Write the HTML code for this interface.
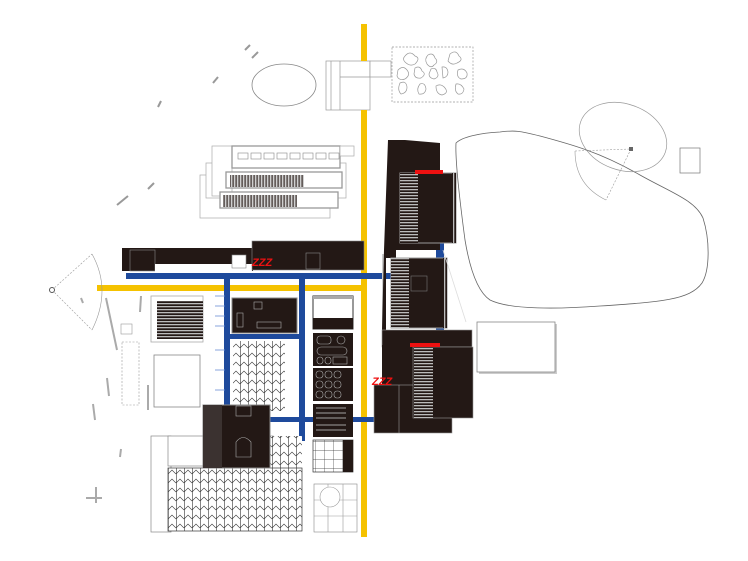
<!DOCTYPE html>
<html><head><meta charset="utf-8"><style>html,body{margin:0;padding:0;background:#fff}svg{display:block}</style></head>
<body>
<svg width="748" height="561" viewBox="0 0 748 561" xmlns="http://www.w3.org/2000/svg" font-family="Liberation Sans, sans-serif">
<defs>
<pattern id="hv" width="3" height="4" patternUnits="userSpaceOnUse"><rect width="3" height="4" fill="#231815"/><rect width="1.3" height="4" fill="#bbb"/></pattern>
<pattern id="hh" width="4" height="3" patternUnits="userSpaceOnUse"><rect width="4" height="3" fill="#231815"/><rect width="4" height="1.3" fill="#bbb"/></pattern>
<pattern id="zig" width="8" height="9" patternUnits="userSpaceOnUse"><rect width="8" height="9" fill="#fff"/><path d="M0.3 0V9M0 6 L4 2 L8 6" stroke="#333" stroke-width="0.6" fill="none"/></pattern>
<pattern id="grid" width="9" height="9" patternUnits="userSpaceOnUse"><rect width="9" height="9" fill="#fff"/><path d="M0 0H9M0 0V9" stroke="#333" stroke-width="0.7"/></pattern>
</defs>

<g stroke="#999" stroke-width="2"><line x1="245" y1="50" x2="250" y2="45"/><line x1="252" y1="58" x2="258" y2="52"/><line x1="213" y1="83" x2="218" y2="77"/><line x1="158" y1="107" x2="161" y2="101"/><line x1="117" y1="205" x2="128" y2="196"/><line x1="148" y1="189" x2="154" y2="183"/></g>

<ellipse cx="284" cy="85" rx="32" ry="21" fill="none" stroke="#888" stroke-width="0.8"/>

<g fill="#fff" stroke="#999" stroke-width="0.7">
<rect x="326" y="61" width="44" height="49"/><line x1="331" y1="61" x2="331" y2="110"/><line x1="340" y1="61" x2="340" y2="110"/>
<rect x="370" y="61" width="21" height="16"/><line x1="340" y1="77" x2="370" y2="77"/>
</g>
<rect x="392" y="47" width="81" height="55" fill="none" stroke="#999" stroke-width="0.7" stroke-dasharray="2,1.5"/>
<g fill="none" stroke="#999" stroke-width="0.7">
<path d="M405 56 q5 -6 10 0 q6 2 0 8 q-5 3 -10 -2 q-3 -3 0 -6z"/><path d="M428 55 q5 -3 7 3 q4 4 -1 7 q-3 4 -7 -1 q-3 -5 1 -9z"/><path d="M450 54 q6 -5 9 2 q5 4 -2 7 q-5 3 -9 -2z"/>
<path d="M398 70 q5 -5 9 0 q4 5 -2 9 q-6 2 -8 -3z"/><path d="M415 68 q5 -3 7 3 q5 3 -1 7 q-6 1 -7 -4z"/><path d="M431 69 q5 -2 6 3 q3 5 -3 7 q-5 -1 -5 -5z"/><path d="M442 67 q5 -1 6 5 q0 5 -5 6z"/><path d="M458 70 q6 -3 9 3 q1 6 -6 6 q-5 -2 -3 -9z"/>
<path d="M400 83 q6 -3 7 4 q0 6 -6 7 q-4 -4 -1 -11z"/><path d="M420 84 q5 -2 6 5 q-1 6 -7 5 q-3 -5 1 -10z"/><path d="M436 86 q5 -3 9 2 q4 5 -3 7 q-6 -1 -6 -9z"/><path d="M456 84 q5 -1 8 5 q-1 6 -6 5 q-4 -3 -2 -10z"/>
</g>

<rect x="361" y="24" width="6" height="37" fill="#f5c200"/>
<rect x="361" y="110" width="6" height="427" fill="#f5c200"/>
<rect x="97" y="285" width="269" height="6" fill="#f5c200"/>

<g fill="#fff" stroke="#aaa" stroke-width="0.7">
<rect x="200" y="175" width="130" height="43"/>
<rect x="206" y="163" width="140" height="35"/>
<rect x="212" y="146" width="20" height="50"/>
<rect x="232" y="146" width="108" height="22" stroke="#999" stroke-width="1.3"/>
<rect x="340" y="146" width="14" height="10"/>
</g>
<g fill="#fff" stroke="#888" stroke-width="0.6"><rect x="238" y="153" width="10" height="6"/><rect x="251" y="153" width="10" height="6"/><rect x="264" y="153" width="10" height="6"/><rect x="277" y="153" width="10" height="6"/><rect x="290" y="153" width="10" height="6"/><rect x="303" y="153" width="10" height="6"/><rect x="316" y="153" width="10" height="6"/><rect x="329" y="153" width="10" height="6"/></g>
<rect x="226" y="172" width="116" height="16" fill="#fff" stroke="#999" stroke-width="1.3"/>
<rect x="230" y="175" width="74" height="12" fill="url(#hv)" opacity="0.7"/>
<rect x="220" y="192" width="118" height="16" fill="#fff" stroke="#999" stroke-width="1.3"/>
<rect x="223" y="195" width="74" height="12" fill="url(#hv)" opacity="0.7"/>

<rect x="122" y="248" width="131" height="23" fill="#231815"/>
<rect x="130" y="250" width="25" height="21" fill="#231815" stroke="#888" stroke-width="0.6"/>
<rect x="155" y="264" width="97" height="8" fill="#fff"/>
<rect x="232" y="255" width="14" height="13" fill="#fff" stroke="#888" stroke-width="0.6"/>
<rect x="252" y="241" width="112" height="29" fill="#231815" stroke="#888" stroke-width="0.6"/>
<rect x="306" y="253" width="14" height="16" fill="none" stroke="#888" stroke-width="0.6"/>
<text x="252" y="266" font-size="11" font-weight="bold" font-style="italic" fill="#e11">ZZZ</text>

<g fill="#1e4a9c">
<rect x="126" y="273" width="267" height="6"/>
<rect x="224" y="279" width="6" height="128"/>
<rect x="299" y="279" width="6" height="162"/>
<rect x="229" y="334" width="76" height="5"/>
<rect x="270" y="417" width="170" height="5"/>
<rect x="436" y="242" width="8" height="18"/>
<rect x="436" y="327" width="8" height="20"/>
</g>

<rect x="151" y="296" width="52" height="46" fill="#fff" stroke="#aaa" stroke-width="0.8"/>
<rect x="157" y="301" width="46" height="38" fill="url(#hh)"/>
<rect x="154" y="355" width="46" height="52" fill="#fff" stroke="#888" stroke-width="0.8"/>
<rect x="122" y="342" width="17" height="63" fill="none" stroke="#999" stroke-width="0.6" stroke-dasharray="2,1.5"/>
<rect x="121" y="324" width="11" height="10" fill="none" stroke="#999" stroke-width="0.6"/>
<g stroke="#aaa" stroke-width="2"><line x1="106" y1="298" x2="117" y2="350"/><line x1="141" y1="296" x2="140" y2="312"/><line x1="148" y1="385" x2="148" y2="410"/><line x1="107" y1="378" x2="109" y2="396"/><line x1="93" y1="404" x2="95" y2="420"/><line x1="121" y1="449" x2="120" y2="457"/><line x1="96" y1="487" x2="96" y2="503"/><line x1="86" y1="498" x2="102" y2="498"/><line x1="81" y1="298" x2="83" y2="303"/></g>
<g fill="none" stroke="#999" stroke-width="0.6" stroke-dasharray="2,1.5"><line x1="52" y1="290" x2="92" y2="254"/><line x1="52" y1="290" x2="92" y2="330"/></g>
<path d="M92 254 Q112 290 92 330" fill="none" stroke="#999" stroke-width="0.6"/>
<circle cx="52" cy="290" r="2.5" fill="#fff" stroke="#555"/>

<rect x="232" y="298" width="65" height="35" fill="#231815" stroke="#888"/>
<rect x="254" y="302" width="8" height="7" fill="none" stroke="#aaa" stroke-width="0.6"/>
<rect x="257" y="322" width="24" height="6" fill="none" stroke="#aaa" stroke-width="0.6"/>
<rect x="237" y="313" width="6" height="14" fill="none" stroke="#aaa" stroke-width="0.6"/>
<g stroke="#6b8ed6" stroke-width="0.8"><line x1="215" y1="296" x2="225" y2="296"/><line x1="215" y1="306" x2="225" y2="306"/><line x1="215" y1="316" x2="225" y2="316"/><line x1="215" y1="326" x2="225" y2="326"/><line x1="215" y1="350" x2="225" y2="350"/><line x1="215" y1="370" x2="225" y2="370"/><line x1="215" y1="390" x2="225" y2="390"/></g>

<rect x="233" y="341" width="52" height="70" fill="url(#zig)"/>
<rect x="151" y="436" width="20" height="96" fill="#fff" stroke="#888" stroke-width="0.7"/>
<rect x="168" y="436" width="105" height="30" fill="#fff" stroke="#888" stroke-width="0.7"/>
<rect x="270" y="436" width="32" height="35" fill="url(#zig)"/>
<rect x="168" y="468" width="134" height="63" fill="url(#zig)" stroke="#333" stroke-width="0.7"/>

<rect x="203" y="405" width="67" height="63" fill="#231815" stroke="#888"/>
<rect x="203" y="405" width="19" height="63" fill="#3b3230"/>
<rect x="236" y="406" width="15" height="10" fill="none" stroke="#aaa" stroke-width="0.6"/>
<path d="M236 457 V442 Q243 433 251 442 V457z" fill="none" stroke="#aaa" stroke-width="0.6"/>

<rect x="313" y="296" width="40" height="33" fill="#fff" stroke="#333"/><rect x="313" y="318" width="40" height="11" fill="#231815"/><rect x="313" y="296" width="40" height="3" fill="#aaa"/>
<rect x="313" y="333" width="40" height="33" fill="#231815"/>
<g fill="none" stroke="#aaa" stroke-width="0.6"><rect x="317" y="336" width="14" height="8" rx="3"/><rect x="337" y="336" width="8" height="8" rx="4"/><rect x="317" y="347" width="30" height="8" rx="4"/><rect x="317" y="357" width="6" height="7" rx="3"/><rect x="325" y="357" width="6" height="7" rx="3"/><rect x="333" y="357" width="14" height="7"/></g>
<rect x="313" y="368" width="40" height="33" fill="#231815"/>
<g fill="none" stroke="#aaa" stroke-width="0.6"><rect x="316" y="371" width="7" height="7" rx="3"/><rect x="325" y="371" width="7" height="7" rx="3"/><rect x="334" y="371" width="7" height="7" rx="3"/><rect x="316" y="381" width="7" height="7" rx="3"/><rect x="325" y="381" width="7" height="7" rx="3"/><rect x="334" y="381" width="7" height="7" rx="3"/><rect x="316" y="391" width="7" height="7" rx="3"/><rect x="325" y="391" width="7" height="7" rx="3"/><rect x="334" y="391" width="7" height="7" rx="3"/></g>
<rect x="313" y="404" width="40" height="33" fill="#231815"/>
<g stroke="#ccc" stroke-width="0.8"><line x1="316" y1="408" x2="346" y2="408"/><line x1="316" y1="413" x2="346" y2="413"/><line x1="316" y1="418" x2="346" y2="418"/><line x1="316" y1="425" x2="346" y2="425"/><line x1="316" y1="430" x2="346" y2="430"/></g>
<rect x="313" y="440" width="40" height="32" fill="url(#grid)" stroke="#333" stroke-width="0.7"/><rect x="343" y="440" width="10" height="32" fill="#231815"/>
<rect x="314" y="484" width="43" height="48" fill="#fff" stroke="#888" stroke-width="0.6"/>
<g stroke="#999" stroke-width="0.6" fill="none"><line x1="328" y1="484" x2="328" y2="532"/><line x1="343" y1="484" x2="343" y2="532"/><line x1="314" y1="500" x2="357" y2="500"/><line x1="314" y1="516" x2="357" y2="516"/><circle cx="330" cy="497" r="10" fill="#fff"/></g>

<rect x="382" y="254" width="4" height="75" fill="#ccc"/>
<path d="M388 140 L405 140 L440 143 L440 250 L386 250 L386 330 L382 330 L384 250z" fill="#231815"/>
<rect x="386" y="248" width="10" height="10" fill="#231815"/>
<rect x="400" y="173" width="56" height="70" fill="#231815" stroke="#999"/>
<rect x="400" y="173" width="18" height="70" fill="url(#hh)"/>
<rect x="452" y="173" width="4" height="70" fill="url(#hv)"/>
<rect x="391" y="258" width="56" height="70" fill="#231815" stroke="#999"/>
<rect x="391" y="258" width="18" height="70" fill="url(#hh)"/>
<rect x="443" y="258" width="4" height="70" fill="url(#hv)"/>
<rect x="411" y="276" width="16" height="15" fill="none" stroke="#777" stroke-width="0.6"/>
<rect x="382" y="330" width="90" height="17" fill="#231815" stroke="#999" stroke-width="0.6"/>
<rect x="382" y="345" width="33" height="45" fill="#231815"/>
<rect x="374" y="385" width="78" height="48" fill="#231815" stroke="#999" stroke-width="0.6"/>
<line x1="399" y1="385" x2="399" y2="433" stroke="#999" stroke-width="0.6"/>
<rect x="413" y="347" width="60" height="71" fill="#231815" stroke="#999" stroke-width="0.6"/>
<rect x="414" y="348" width="19" height="70" fill="url(#hh)"/>
<rect x="415" y="170" width="28" height="4" fill="#e11"/>
<rect x="410" y="343" width="30" height="4" fill="#e11"/>
<text x="372" y="385" font-size="11" font-weight="bold" font-style="italic" fill="#e11">ZZZ</text>
<line x1="443" y1="250" x2="466" y2="322" stroke="#ddd" stroke-width="0.8"/>

<path d="M456 143 C462 137 480 133 500 132 C515 130 520 131 540 136 C570 144 600 152 640 175 C670 192 695 200 703 218 C710 240 710 270 702 283 C690 300 660 302 600 306 C560 309 510 310 490 300 C478 292 470 270 465 240 C461 210 455 160 456 143z" fill="none" stroke="#666" stroke-width="0.8"/>
<ellipse cx="623" cy="137" rx="45" ry="33" transform="rotate(20 623 137)" fill="none" stroke="#999" stroke-width="0.7"/>
<g fill="none" stroke="#999" stroke-width="0.6" stroke-dasharray="2,1.5"><line x1="575" y1="151" x2="631" y2="149"/><line x1="631" y1="149" x2="606" y2="200"/></g>
<path d="M575 151 Q575 185 606 200" fill="none" stroke="#999" stroke-width="0.6"/>
<rect x="629" y="147" width="4" height="4" fill="#666"/>
<rect x="680" y="148" width="20" height="25" fill="none" stroke="#777" stroke-width="0.7"/>
<rect x="479" y="324" width="78" height="50" fill="#ccc"/>
<rect x="477" y="322" width="78" height="50" fill="#fff" stroke="#888" stroke-width="0.8"/>
</svg>
</body></html>
